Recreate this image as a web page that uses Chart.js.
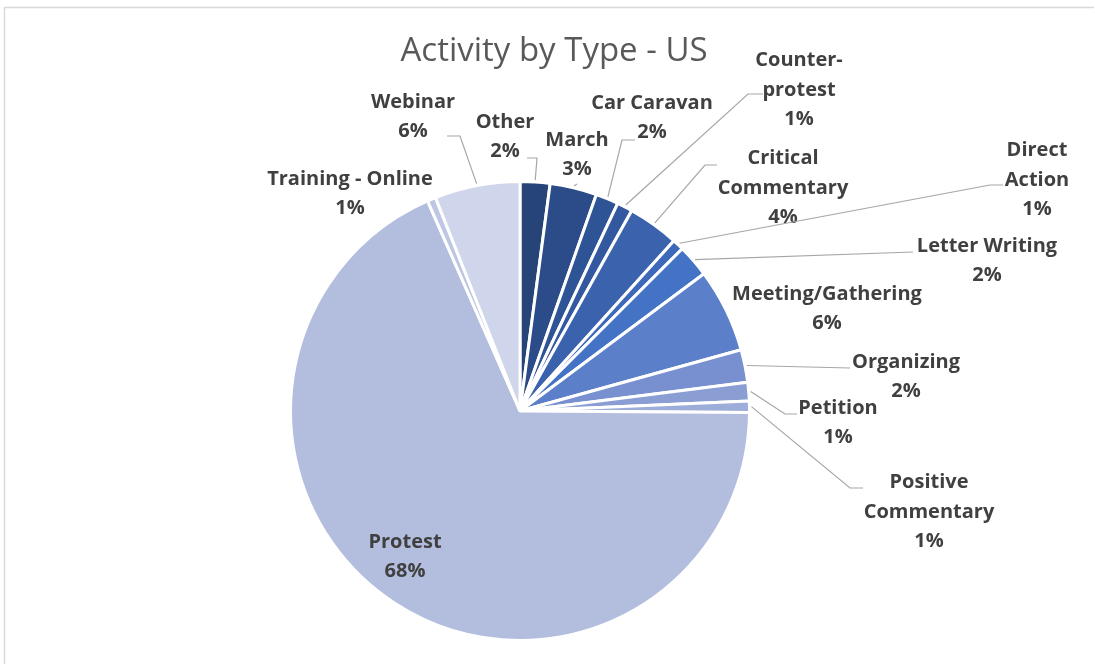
<!DOCTYPE html>
<html>
<head>
<meta charset="utf-8">
<title>Activity by Type - US</title>
<script src="https://cdn.jsdelivr.net/npm/chart.js@4.4.0/dist/chart.umd.min.js"></script>
<style>
  html, body { margin:0; padding:0; background:#fff; }
  #wrap { position:relative; width:1095px; height:664px; }
</style>
</head>
<body>
<div id="wrap"><canvas id="c" width="1095" height="664"></canvas></div>
<script>
// data, clockwise from 12 o'clock
const categories = ['Other','March','Car Caravan','Counter-protest','Critical Commentary','Direct Action',
  'Letter Writing','Meeting/Gathering','Organizing','Petition','Positive Commentary','Protest',
  'Training - Online','Webinar']
const shares = [2.1, 3.3, 1.6, 1.1, 3.6, 0.8, 2.3, 5.9, 2.3, 1.3, 0.8, 68.3, 0.6, 6.0]
const labelLines = [['Other'],['March'],['Car Caravan'],['Counter-','protest'],['Critical','Commentary'],
  ['Direct','Action'],['Letter Writing'],['Meeting/Gathering'],['Organizing'],['Petition'],
  ['Positive','Commentary'],['Protest'],['Training - Online'],['Webinar']]
const colors = ['#264478','#2b4c88','#2f5496','#3358a0','#3a62ad','#3e68b9','#4472c4',
  '#5b80c9','#7890cf','#8a9ed4','#9dadd9','#b3bedf','#bdc6e3','#cfd5ea']

// label placement relative to pie centre: block centre, leader elbow, leader end x
const labelPos = [
  {dx:-15, dy:-275, elbow:[17,-253], endX:7},
  {dx:57, dy:-257, elbow:[57,-227], endX:57},
  {dx:132, dy:-294, elbow:[102,-271], endX:115},
  {dx:279, dy:-322, elbow:[228,-317], endX:243},
  {dx:263, dy:-224, elbow:[185,-246], endX:197},
  {dx:517, dy:-232, elbow:[470,-226], endX:483},
  {dx:467, dy:-151, elbow:[393,-159], endX:393},
  {dx:307, dy:-103},
  {dx:386, dy:-35, elbow:[330,-43], endX:330},
  {dx:318, dy:11, elbow:[265,3], endX:277},
  {dx:409, dy:100, elbow:[330,77], endX:343},
  {dx:-115, dy:145},
  {dx:-170, dy:-218},
  {dx:-107, dy:-295, elbow:[-60,-275], endX:-73}
]

const LINE_H = 29.5
const total = shares.reduce((a,b)=>a+b,0)

const decor = {
  id:'decor',
  beforeDraw(chart){
    const ctx = chart.ctx
    ctx.save()
    ctx.strokeStyle = '#d9d9d9'
    ctx.lineWidth = 1.5
    ctx.beginPath()
    ctx.moveTo(4.5, 664); ctx.lineTo(4.5, 7.5); ctx.lineTo(1094, 7.5)
    ctx.stroke()
    ctx.fillStyle = '#595959'
    ctx.font = '33px "Open Sans", Lato, sans-serif'
    ctx.textAlign = 'center'
    ctx.textBaseline = 'middle'
    ctx.fillText('Activity by Type - US', 554, 52)
    ctx.restore()
  },
  afterDatasetsDraw(chart){
    const ctx = chart.ctx
    const arcs = chart.getDatasetMeta(0).data
    ctx.save()
    arcs.forEach((arc, i) => {
      const p = labelPos[i]
      const cx = arc.x, cy = arc.y
      if(p.elbow){
        const mid = (arc.startAngle + arc.endAngle)/2
        const r = arc.outerRadius + 2
        ctx.strokeStyle = '#a6a6a6'
        ctx.lineWidth = 1.2
        ctx.beginPath()
        ctx.moveTo(cx + r*Math.cos(mid), cy + r*Math.sin(mid))
        ctx.lineTo(cx + p.elbow[0], cy + p.elbow[1])
        ctx.lineTo(cx + p.endX, cy + p.elbow[1])
        ctx.stroke()
      }
      const lines = [...labelLines[i], Math.round(shares[i]/total*100) + '%']
      ctx.fillStyle = '#404040'
      ctx.font = 'bold 20px "Open Sans", Lato, sans-serif'
      ctx.textAlign = 'center'
      ctx.textBaseline = 'middle'
      const y0 = cy + p.dy - (lines.length-1)*LINE_H/2 + 1
      lines.forEach((t, k) => ctx.fillText(t, cx + p.dx, y0 + k*LINE_H))
    })
    ctx.restore()
  }
}

new Chart(document.getElementById('c'), {
  type:'pie',
  data:{
    labels: categories,
    datasets:[{ data: shares, backgroundColor: colors, borderColor:'#ffffff', borderWidth:3, hoverOffset:0 }]
  },
  options:{
    responsive:false,
    animation:false,
    radius: 229.5,
    layout:{ padding:{ top:183, bottom:25, left:0, right:55 } },
    plugins:{ legend:{ display:false }, tooltip:{ enabled:false }, title:{ display:false } }
  },
  plugins:[decor]
})
</script>
</body>
</html>
